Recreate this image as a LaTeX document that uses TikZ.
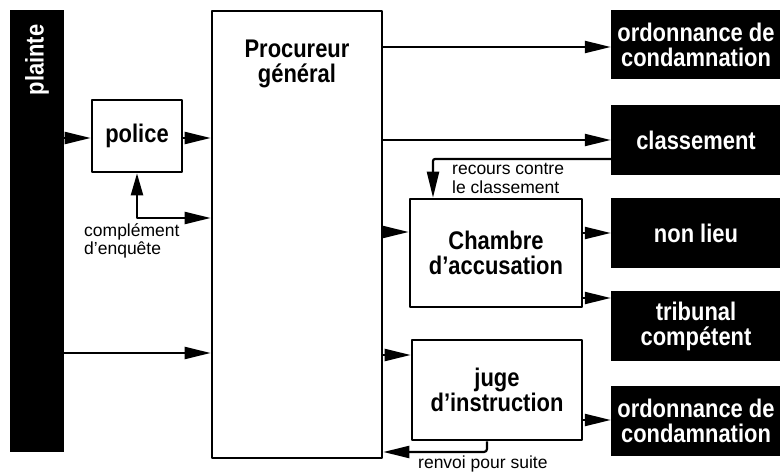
\documentclass[tikz,border=0pt]{standalone}
\usepackage{fontspec}
\setmainfont{Liberation Sans}
\newfontfamily\condfont{Liberation Sans}[FakeStretch=0.86]
\usetikzlibrary{arrows.meta}
\begin{document}
\begin{tikzpicture}[x=1pt,y=-1pt,
  bigtxt/.style={font=\condfont\bfseries\fontsize{25.5}{25}\selectfont, align=center},
  smalltxt/.style={font=\fontsize{17.5}{18.5}\selectfont, align=left, inner sep=0pt},
  wbox/.style={draw=black, line width=2.6pt, fill=white, bigtxt, inner sep=0pt},
  bbox/.style={fill=black, text=white, bigtxt, inner sep=0pt},
  arr/.style={line width=2.2pt, -{Triangle[length=26pt,width=12pt]}},
  arrb/.style={line width=2.2pt, {Triangle[length=22pt,width=12pt]}-{Triangle[length=26pt,width=12pt]}},
  line join=round]
\useasboundingbox (0,0) rectangle (780,473);
% left bar
\node[bbox, minimum width=54pt, minimum height=442pt] (plainte) at (37,231) {};
\node[bigtxt, text=white, rotate=90, inner sep=0pt] (plaintetxt) at (37,60) {plainte};
% white boxes
\node[wbox, minimum width=90pt, minimum height=72pt] (police) at (137,136) {police};
\node[wbox, minimum width=170pt, minimum height=447pt] (proc) at (297,234.5) {};
\node[bigtxt, inner sep=0pt] (proctxt) at (297,64) {Procureur\\général};
\node[wbox, minimum width=172pt, minimum height=108pt] (chambre) at (496,253) {Chambre\\d’accusation};
\node[wbox, minimum width=170pt, minimum height=100pt] (juge) at (497,390) {juge\\d’instruction};
% black result boxes
\node[bbox, minimum width=170pt, minimum height=69pt] (ord1) at (696,44.5) {ordonnance de\\condamnation};
\node[bbox, minimum width=170pt, minimum height=70pt] (classement) at (696,140) {classement};
\node[bbox, minimum width=170pt, minimum height=70pt] (nonlieu) at (696,233) {non lieu};
\node[bbox, minimum width=170pt, minimum height=70pt] (tribunal) at (696,326) {tribunal\\compétent};
\node[bbox, minimum width=170pt, minimum height=70pt] (ord2) at (696,421) {ordonnance de\\condamnation};
% connectors
\draw[arr] (plainte.east |- 0,138) -- (police.west |- 0,138);
\draw[arr] (police.east |- 0,138) -- (proc.west |- 0,138);
\draw[arrb] (police.south) |- (proc.west |- 0,218);
\draw[arr] (plainte.east |- 0,353) -- (proc.west |- 0,353);
\draw[arr] (proc.east |- 0,47) -- (ord1.west |- 0,47);
\draw[arr] (proc.east |- classement.west) -- (classement.west);
\draw[arr, rounded corners=2pt] (classement.west |- 0,159) -| (chambre.north -| 433,0);
\draw[arr] (proc.east |- 0,232) -- (chambre.west |- 0,232);
\draw[arr] (chambre.east |- nonlieu.west) -- (nonlieu.west);
\draw[arr] (chambre.east |- 0,298) -- (tribunal.west |- 0,298);
\draw[arr] (proc.east |- 0,355) -- (juge.west |- 0,355);
\draw[arr] (juge.east |- 0,420) -- (ord2.west |- 0,420);
\draw[arr, rounded corners=3pt] (juge.south -| 487,0) |- (proc.east |- 0,452);
% labels
\node[smalltxt, anchor=north west] (lblcomp) at (84,223) {complément\\d’enquête};
\node[smalltxt, anchor=north west] (lblrec) at (452,163) {recours contre\\le classement};
\node[smalltxt, anchor=north west] (lblrenv) at (418,456) {renvoi pour suite};
\end{tikzpicture}
\end{document}
